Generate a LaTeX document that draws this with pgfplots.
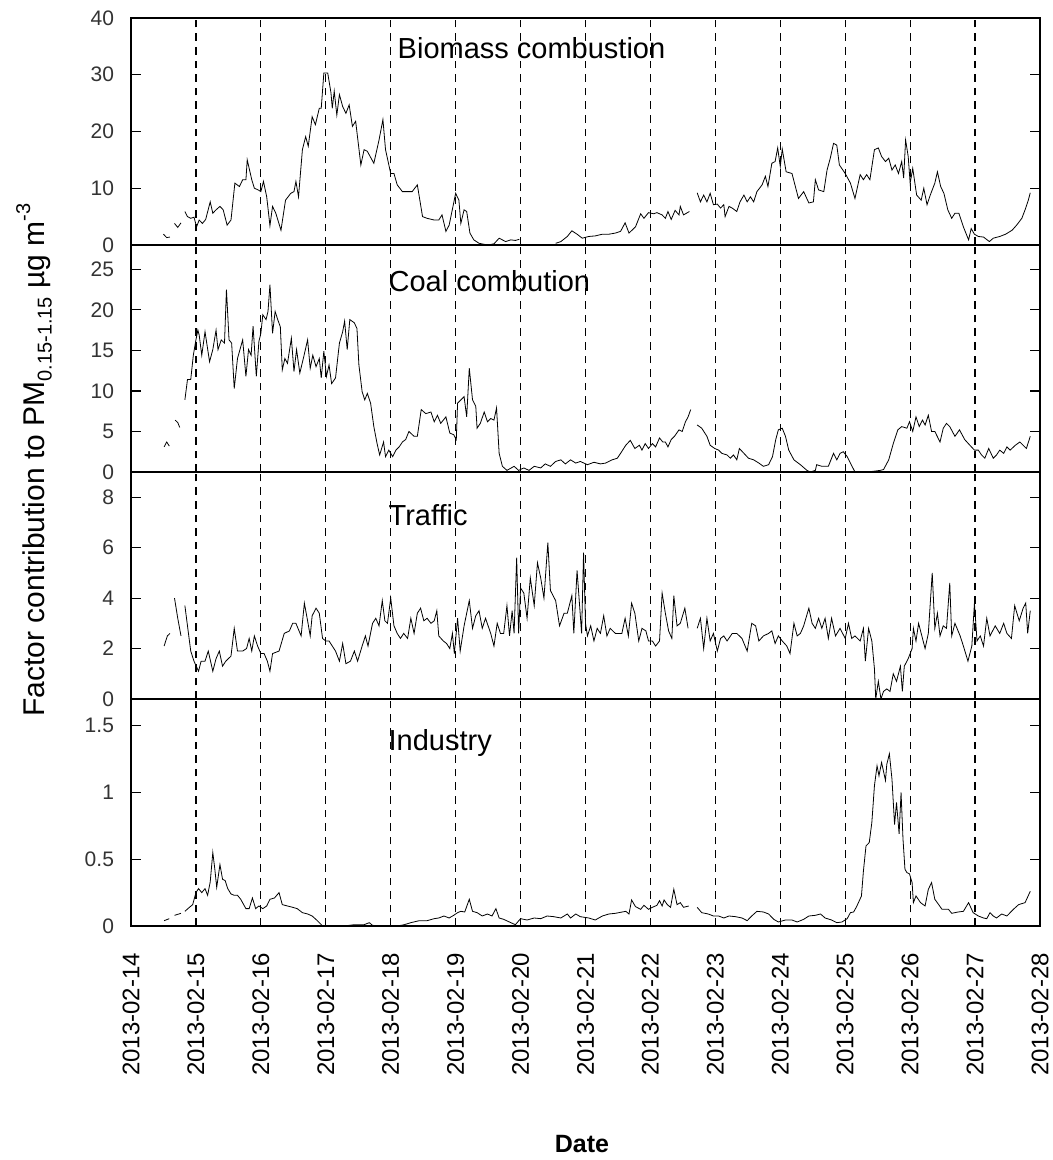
\documentclass[border=0pt]{standalone}
\usepackage{fontspec}
\setmainfont{Liberation Sans}
\usepackage{pgfplots}
\pgfplotsset{compat=1.18}

\pgfplotsset{panel/.style={
    width=454.5pt, height=113.5pt, scale only axis,
    anchor=north west,
    xmin=0, xmax=14, ymin=0,
    xtick={0,...,14}, xticklabels={},
    xmajorgrids,
    major x grid style={black, line width=0.6pt, dash pattern=on 3.8pt off 3pt},
    xtick style={draw=none},
    ytick style={black, line width=0.6pt},
    tick align=inside, major tick length=5pt,
    axis line style={line width=0.9pt},
    unbounded coords=jump,
    yticklabel style={font=\fontsize{10.5}{12}\selectfont, text=black!80},
    yticklabel shift=5pt,
    /pgf/number format/assume math mode=true,
    cycle list={{black, line width=0.9pt, line join=round, mark=none}},
  }}
\tikzset{ttl/.style={anchor=west, inner sep=0pt, font=\fontsize{14.5}{16}\selectfont}}

\begin{document}
\begin{tikzpicture}
\useasboundingbox (-65.5pt,9pt) rectangle (461pt,-571pt);

% Biomass combustion
\begin{axis}[panel, at={(0,0)}, ymax=40, ytick={0,10,...,40}]
\addplot coordinates {
(0.50,1.9) (0.55,1.3) (0.60,1.4) (0.63,nan)
(0.67,3.8) (0.72,3.1) (0.77,3.9) (0.80,nan)
(0.83,5.9) (0.87,5.0) (0.92,4.7) (0.97,4.9) (1.01,3.2) (1.05,4.4) (1.10,3.8) (1.15,4.5)
(1.22,7.6) (1.26,5.6) (1.31,6.2) (1.37,6.8) (1.42,6.2) (1.48,3.5) (1.54,4.4) (1.60,10.9)
(1.67,10.3) (1.72,11.5) (1.77,11.5) (1.79,15.0) (1.86,11.5) (1.90,10.0) (1.96,9.7) (2.00,9.4)
(2.04,11.2) (2.09,8.5) (2.14,3.4) (2.18,6.8) (2.23,5.6) (2.31,2.6) (2.38,7.9) (2.46,9.1)
(2.51,9.4) (2.54,11.2) (2.58,8.5) (2.64,16.8) (2.69,19.1) (2.73,17.4) (2.79,22.6) (2.84,21.2)
(2.90,24.1) (2.93,24.1) (2.97,30.3) (3.03,30.3) (3.08,26.8) (3.10,24.1) (3.13,27.1) (3.17,22.9)
(3.21,26.5) (3.26,24.4) (3.31,23.2) (3.36,24.7) (3.41,20.9) (3.46,21.8) (3.54,14.1) (3.59,16.8)
(3.64,16.5) (3.74,14.4) (3.82,18.5) (3.88,22.1) (3.92,16.8) (4.00,12.6) (4.05,12.6) (4.10,10.6)
(4.18,9.4) (4.26,9.4) (4.33,9.4) (4.41,10.6) (4.49,5.0) (4.56,4.7) (4.67,4.4) (4.74,4.4)
(4.79,5.3) (4.85,2.4) (4.90,3.5) (5.00,9.1) (5.05,7.9) (5.08,3.8) (5.13,6.2) (5.17,5.9)
(5.22,2.1) (5.28,0.9) (5.36,0.3) (5.49,0.0) (5.59,0.2) (5.67,1.2) (5.77,0.6) (5.85,0.9)
(5.92,0.8) (5.98,1.0) (6.20,nan)
(6.54,0.3) (6.62,0.6) (6.72,1.5) (6.79,2.5) (6.87,1.9) (6.95,1.2) (7.05,1.5) (7.15,1.6)
(7.26,1.9) (7.36,1.9) (7.46,2.1) (7.54,2.4) (7.61,3.9) (7.67,2.1) (7.77,3.2) (7.85,5.5)
(7.90,4.7) (7.97,5.7) (8.05,5.5) (8.10,5.7) (8.18,5.3) (8.23,4.7) (8.27,5.9) (8.32,4.5)
(8.38,6.1) (8.44,5.3) (8.46,6.8) (8.51,5.3) (8.60,5.9) (8.66,nan)
(8.72,9.2) (8.77,7.6) (8.82,8.8) (8.87,7.6) (8.92,9.1) (8.97,7.1) (9.03,7.2) (9.08,6.5)
(9.13,7.1) (9.15,5.0) (9.21,6.8) (9.26,6.5) (9.33,5.9) (9.38,7.6) (9.44,8.8) (9.49,7.6)
(9.54,8.5) (9.59,7.6) (9.64,9.4) (9.72,10.6) (9.77,12.1) (9.81,10.3) (9.87,14.4) (9.92,14.7)
(9.96,17.1) (10.00,13.8) (10.03,16.9) (10.09,12.9) (10.18,12.6) (10.28,8.2) (10.36,9.4) (10.44,7.4)
(10.51,7.6) (10.54,11.5) (10.59,9.7) (10.67,9.4) (10.72,13.2) (10.77,15.3) (10.82,17.9) (10.87,17.6)
(10.91,14.1) (11.00,12.6) (11.08,10.9) (11.15,8.2) (11.23,12.4) (11.28,11.5) (11.33,12.4) (11.38,11.5)
(11.45,16.8) (11.51,17.1) (11.56,15.6) (11.62,14.7) (11.67,15.3) (11.72,13.2) (11.77,14.1) (11.82,12.6)
(11.87,14.7) (11.90,11.8) (11.93,18.5) (11.97,15.6) (12.00,10.9) (12.04,13.5) (12.10,8.8) (12.17,7.9)
(12.21,10.0) (12.26,7.1) (12.31,8.8) (12.38,10.9) (12.42,12.9) (12.47,10.3) (12.52,9.1) (12.58,6.2)
(12.64,4.7) (12.69,5.6) (12.75,5.6) (12.82,3.2) (12.90,0.9) (12.94,2.9) (12.99,1.9) (13.05,1.5)
(13.13,1.4) (13.22,0.6) (13.28,1.2) (13.38,1.5) (13.47,1.9) (13.57,2.6) (13.64,3.5) (13.72,4.7)
(13.77,6.2) (13.82,7.9) (13.85,9.2)
};
\node[ttl] at (rel axis cs:0.293,0.868) {Biomass combustion};
\end{axis}

% Coal combustion
\begin{axis}[panel, at={(0,-113.5pt)}, ymax=28, ytick={0,5,...,25}]
\addplot coordinates {
(0.51,3.1) (0.55,3.7) (0.59,3.2) (0.63,nan)
(0.68,6.4) (0.72,6.1) (0.75,5.5) (0.79,nan)
(0.83,8.9) (0.87,11.4) (0.92,11.4) (0.96,14.4) (1.00,16.3) (1.03,17.5) (1.05,16.9) (1.09,14.4)
(1.14,17.3) (1.21,13.6) (1.26,15.1) (1.31,17.5) (1.34,15.1) (1.39,16.3) (1.44,15.9) (1.47,22.5)
(1.51,16.3) (1.55,15.9) (1.59,10.3) (1.64,14.0) (1.72,16.3) (1.77,11.8) (1.81,15.1) (1.85,14.4)
(1.88,18.0) (1.93,11.8) (1.97,16.1) (2.00,17.1) (2.03,19.4) (2.08,18.8) (2.11,19.8) (2.14,23.1)
(2.18,17.1) (2.22,19.8) (2.26,18.8) (2.30,17.9) (2.33,12.6) (2.37,14.0) (2.41,13.4) (2.47,16.5)
(2.51,12.4) (2.55,15.1) (2.60,12.2) (2.66,14.2) (2.72,16.3) (2.76,12.8) (2.80,14.4) (2.85,13.0)
(2.90,14.0) (2.93,11.6) (2.97,14.9) (3.01,11.8) (3.05,13.2) (3.09,10.9) (3.15,11.6) (3.21,15.9)
(3.26,17.3) (3.29,18.6) (3.33,15.1) (3.37,18.8) (3.44,18.4) (3.48,17.7) (3.51,13.2) (3.56,9.9)
(3.60,8.9) (3.64,9.7) (3.69,8.5) (3.74,5.6) (3.79,3.5) (3.83,2.1) (3.89,3.7) (3.92,1.9)
(3.97,2.7) (4.03,1.9) (4.08,2.7) (4.13,3.1) (4.18,3.7) (4.23,4.0) (4.28,5.0) (4.36,4.4)
(4.41,4.4) (4.47,7.7) (4.54,7.2) (4.62,7.4) (4.67,6.2) (4.72,7.0) (4.77,6.0) (4.85,6.8)
(4.91,4.8) (4.97,4.6) (5.01,4.0) (5.03,8.5) (5.08,8.9) (5.13,9.3) (5.17,6.8) (5.21,12.8)
(5.26,8.9) (5.31,8.1) (5.33,5.4) (5.38,6.0) (5.44,7.4) (5.49,6.2) (5.54,6.6) (5.59,6.4)
(5.63,7.9) (5.67,2.3) (5.72,0.7) (5.79,0.2) (5.90,0.7) (5.97,0.2) (6.05,0.5) (6.13,0.2)
(6.21,0.7) (6.31,0.5) (6.38,1.0) (6.46,0.7) (6.54,1.3) (6.62,1.5) (6.69,1.0) (6.77,1.5)
(6.85,1.1) (6.92,1.3) (7.03,0.9) (7.13,1.2) (7.23,1.0) (7.31,1.1) (7.41,1.5) (7.49,1.7)
(7.54,2.3) (7.62,3.3) (7.69,3.9) (7.76,2.9) (7.83,3.3) (7.87,2.7) (7.92,3.5) (7.97,2.9)
(8.03,3.5) (8.08,3.1) (8.14,4.2) (8.19,3.7) (8.23,3.7) (8.27,3.1) (8.32,4.0) (8.37,4.4)
(8.44,5.2) (8.49,5.0) (8.54,6.2) (8.58,6.8) (8.62,7.7) (8.67,nan)
(8.72,5.8) (8.79,5.4) (8.87,4.4) (8.92,3.3) (8.99,2.9) (9.05,2.7) (9.10,2.3) (9.18,2.1)
(9.23,1.7) (9.28,2.1) (9.33,1.5) (9.37,2.9) (9.44,2.3) (9.51,1.7) (9.59,1.5) (9.67,1.1)
(9.74,0.7) (9.82,0.9) (9.88,1.9) (9.93,4.0) (9.97,5.2) (10.03,5.4) (10.08,4.4) (10.13,2.7)
(10.21,1.5) (10.31,0.9) (10.41,0.2) (10.46,0.0) (10.54,0.2) (10.56,0.9) (10.64,0.7) (10.74,0.7)
(10.82,2.3) (10.87,1.5) (10.92,2.3) (10.97,2.5) (11.03,1.9) (11.08,1.1) (11.15,0.0) (11.35,0.0)
(11.54,0.2) (11.59,0.3) (11.67,1.5) (11.74,3.5) (11.81,5.2) (11.87,5.6) (11.95,5.4) (11.99,6.2)
(12.04,5.0) (12.09,6.8) (12.14,5.6) (12.19,6.4) (12.23,5.8) (12.28,7.0) (12.33,5.0) (12.38,5.0)
(12.46,3.7) (12.51,5.4) (12.56,6.0) (12.61,5.6) (12.69,4.4) (12.76,5.2) (12.84,4.0) (12.92,3.3)
(12.99,2.7) (13.05,2.7) (13.10,2.1) (13.15,1.7) (13.21,2.9) (13.28,1.7) (13.33,2.1) (13.38,2.7)
(13.44,2.3) (13.49,3.1) (13.54,2.7) (13.62,3.3) (13.69,3.7) (13.74,3.3) (13.79,2.9) (13.85,4.4)
};
\node[ttl] at (rel axis cs:0.283,0.841) {Coal combution};
\end{axis}

% Traffic
\begin{axis}[panel, at={(0,-227pt)}, ymax=9, ytick={0,2,...,8}]
\addplot coordinates {
(0.51,2.1) (0.56,2.5) (0.60,2.6) (0.63,nan)
(0.67,4.0) (0.72,3.2) (0.77,2.5) (0.80,nan)
(0.83,3.7) (0.87,2.9) (0.92,1.9) (0.97,1.5) (1.04,1.1) (1.08,1.5) (1.14,1.5) (1.19,1.9)
(1.26,1.1) (1.31,1.6) (1.36,1.9) (1.41,1.3) (1.46,1.5) (1.54,1.7) (1.59,2.8) (1.64,1.9)
(1.72,1.9) (1.78,2.0) (1.82,2.4) (1.86,1.9) (1.90,2.5) (1.95,2.1) (2.00,1.8) (2.05,1.8)
(2.10,1.5) (2.14,1.1) (2.18,1.8) (2.28,1.9) (2.36,2.6) (2.44,2.7) (2.49,3.0) (2.54,3.0)
(2.62,2.5) (2.67,3.8) (2.72,3.1) (2.76,2.5) (2.79,3.3) (2.85,3.6) (2.90,3.4) (2.95,2.4)
(3.00,2.3) (3.05,2.3) (3.10,2.1) (3.15,1.9) (3.21,1.5) (3.26,2.2) (3.31,1.4) (3.38,1.5)
(3.44,1.9) (3.49,1.5) (3.56,2.1) (3.61,2.5) (3.65,2.1) (3.72,3.0) (3.77,3.2) (3.82,2.9)
(3.87,3.9) (3.91,3.1) (3.95,3.0) (4.00,4.0) (4.05,2.9) (4.10,2.6) (4.15,2.4) (4.20,2.6)
(4.26,2.4) (4.31,3.2) (4.36,2.6) (4.41,3.4) (4.46,3.6) (4.51,3.1) (4.56,3.2) (4.62,3.0)
(4.67,3.1) (4.71,3.5) (4.74,2.5) (4.81,2.3) (4.86,2.2) (4.91,2.0) (4.95,2.6) (4.98,1.8)
(5.03,3.2) (5.07,1.9) (5.13,2.9) (5.21,3.9) (5.26,2.8) (5.31,3.3) (5.36,3.5) (5.41,2.8)
(5.46,3.2) (5.54,2.6) (5.59,2.1) (5.64,3.0) (5.69,2.6) (5.74,2.6) (5.79,3.7) (5.83,2.5)
(5.87,3.5) (5.90,2.6) (5.94,5.6) (5.97,2.6) (6.00,4.4) (6.05,4.2) (6.10,3.2) (6.15,4.8)
(6.21,3.7) (6.26,5.4) (6.31,4.8) (6.36,4.0) (6.42,6.2) (6.46,4.3) (6.54,3.9) (6.60,2.9)
(6.67,3.4) (6.72,3.4) (6.79,4.1) (6.82,2.6) (6.87,5.1) (6.94,2.6) (6.97,5.8) (7.00,3.0)
(7.03,2.5) (7.08,2.9) (7.13,2.3) (7.18,2.8) (7.23,2.6) (7.28,3.3) (7.33,2.5) (7.38,2.8)
(7.46,2.6) (7.56,2.6) (7.61,3.2) (7.66,2.5) (7.71,3.8) (7.76,3.4) (7.82,2.3) (7.87,2.8)
(7.93,2.7) (7.97,2.3) (8.03,2.3) (8.08,2.1) (8.14,2.3) (8.18,4.2) (8.23,3.4) (8.28,2.7)
(8.33,2.4) (8.36,4.1) (8.41,2.9) (8.46,3.0) (8.53,3.6) (8.58,2.8) (8.65,nan)
(8.72,2.8) (8.77,3.2) (8.82,2.0) (8.87,3.2) (8.92,2.3) (8.97,2.6) (9.03,1.9) (9.08,2.4)
(9.13,2.5) (9.18,2.3) (9.26,2.6) (9.33,2.6) (9.41,2.4) (9.49,1.9) (9.56,3.0) (9.62,2.9)
(9.67,2.3) (9.74,2.5) (9.82,2.6) (9.87,2.7) (9.92,2.2) (9.97,2.5) (10.03,2.3) (10.10,2.1)
(10.15,1.8) (10.21,3.0) (10.26,2.5) (10.31,2.6) (10.36,2.9) (10.44,3.6) (10.49,3.0) (10.54,2.8)
(10.59,3.2) (10.64,2.8) (10.69,3.2) (10.74,2.4) (10.79,3.2) (10.85,2.5) (10.92,2.8) (11.00,2.4)
(11.05,3.0) (11.10,2.4) (11.15,2.5) (11.23,2.3) (11.28,2.8) (11.31,1.5) (11.36,2.8) (11.41,2.3)
(11.45,1.2) (11.47,0.0) (11.51,0.7) (11.55,0.0) (11.59,0.3) (11.64,0.4) (11.69,0.3) (11.74,1.0)
(11.79,0.7) (11.85,1.3) (11.88,0.3) (11.91,1.3) (11.97,1.6) (12.03,2.0) (12.05,2.8) (12.09,2.3)
(12.13,3.0) (12.18,2.5) (12.23,2.0) (12.28,2.6) (12.34,5.0) (12.38,2.8) (12.42,3.4) (12.46,2.5)
(12.51,2.9) (12.56,2.8) (12.61,4.6) (12.64,2.5) (12.69,3.0) (12.77,2.5) (12.82,2.1) (12.89,1.5)
(12.95,2.1) (12.99,3.8) (13.03,2.3) (13.08,2.5) (13.13,2.1) (13.18,3.2) (13.23,2.5) (13.31,2.9)
(13.38,2.6) (13.44,3.0) (13.49,2.6) (13.56,2.4) (13.61,3.7) (13.68,3.1) (13.74,3.6) (13.78,3.8)
(13.81,2.6) (13.85,3.5)
};
\node[ttl] at (rel axis cs:0.283,0.81) {Traffic};
\end{axis}

% Industry
\begin{axis}[panel, at={(0,-340.5pt)}, ymax=1.7, ytick={0,0.5,1,1.5},
    xticklabels={2013-02-14,2013-02-15,2013-02-16,2013-02-17,2013-02-18,2013-02-19,2013-02-20,
      2013-02-21,2013-02-22,2013-02-23,2013-02-24,2013-02-25,2013-02-26,2013-02-27,2013-02-28},
    xticklabel style={rotate=90, anchor=east, font=\fontsize{12}{14}\selectfont},
    xticklabel shift=10pt]
\addplot coordinates {
(0.51,0.04) (0.59,0.055) (0.63,nan)
(0.67,0.08) (0.77,0.095) (0.80,nan)
(0.83,0.11) (0.90,0.14) (0.95,0.16) (1.00,0.25) (1.04,0.28) (1.09,0.25) (1.14,0.28) (1.18,0.23)
(1.22,0.33) (1.26,0.55) (1.29,0.43) (1.32,0.29) (1.37,0.46) (1.41,0.35) (1.45,0.34) (1.49,0.28)
(1.54,0.24) (1.59,0.23) (1.64,0.23) (1.69,0.20) (1.77,0.13) (1.82,0.13) (1.87,0.21) (1.92,0.13)
(1.97,0.15) (2.03,0.13) (2.09,0.15) (2.14,0.20) (2.21,0.21) (2.28,0.25) (2.33,0.16) (2.41,0.15)
(2.49,0.14) (2.56,0.13) (2.64,0.10) (2.72,0.09) (2.79,0.075) (2.87,0.04) (2.95,0.0) (3.03,0.0)
(3.13,0.0) (3.28,0.0) (3.44,0.01) (3.59,0.01) (3.67,0.025) (3.72,0.005) (3.85,0.0) (4.00,0.0)
(4.10,0.0) (4.21,0.01) (4.31,0.025) (4.44,0.04) (4.56,0.04) (4.67,0.055) (4.74,0.06) (4.82,0.075)
(4.90,0.06) (4.97,0.08) (5.03,0.10) (5.08,0.11) (5.14,0.105) (5.21,0.20) (5.26,0.11) (5.33,0.10)
(5.41,0.075) (5.49,0.09) (5.56,0.075) (5.62,0.13) (5.67,0.06) (5.74,0.05) (5.85,0.025) (5.92,0.01)
(6.00,0.055) (6.10,0.045) (6.21,0.06) (6.31,0.055) (6.41,0.075) (6.51,0.07) (6.62,0.06) (6.72,0.09)
(6.77,0.06) (6.85,0.09) (6.92,0.07) (7.05,0.06) (7.15,0.045) (7.26,0.075) (7.36,0.09) (7.46,0.095)
(7.62,0.11) (7.67,0.09) (7.71,0.195) (7.77,0.145) (7.85,0.125) (7.90,0.155) (7.97,0.125) (8.03,0.14)
(8.10,0.155) (8.14,0.19) (8.18,0.15) (8.21,0.195) (8.26,0.16) (8.31,0.14) (8.36,0.275) (8.41,0.16)
(8.46,0.175) (8.51,0.14) (8.59,0.15) (8.65,nan)
(8.72,0.14) (8.79,0.10) (8.89,0.09) (8.97,0.075) (9.05,0.075) (9.13,0.06) (9.21,0.075) (9.31,0.07)
(9.41,0.06) (9.49,0.04) (9.56,0.075) (9.64,0.11) (9.74,0.105) (9.82,0.09) (9.90,0.05) (9.97,0.03)
(10.08,0.045) (10.18,0.045) (10.26,0.03) (10.36,0.05) (10.44,0.075) (10.54,0.08) (10.62,0.09) (10.69,0.06)
(10.79,0.045) (10.87,0.025) (10.95,0.03) (11.03,0.055) (11.08,0.10) (11.13,0.105) (11.18,0.15) (11.25,0.225)
(11.28,0.41) (11.32,0.60) (11.37,0.625) (11.41,0.775) (11.45,1.05) (11.49,1.20) (11.52,1.125) (11.56,1.225)
(11.62,1.09) (11.64,1.21) (11.68,1.29) (11.72,1.10) (11.76,0.76) (11.79,0.925) (11.83,0.69) (11.86,1.0)
(11.89,0.65) (11.92,0.425) (11.95,0.40) (11.99,0.39) (12.03,0.325) (12.05,0.175) (12.09,0.225) (12.16,0.175)
(12.23,0.15) (12.28,0.275) (12.33,0.325) (12.38,0.20) (12.44,0.16) (12.49,0.125) (12.59,0.125) (12.64,0.095)
(12.74,0.105) (12.82,0.11) (12.90,0.175) (12.97,0.10) (13.05,0.075) (13.13,0.06) (13.18,0.055) (13.23,0.10)
(13.28,0.075) (13.33,0.06) (13.41,0.09) (13.49,0.075) (13.54,0.10) (13.59,0.125) (13.67,0.16) (13.77,0.175)
(13.85,0.26)
};
\node[ttl] at (rel axis cs:0.283,0.806) {Industry};
\end{axis}

\node[rotate=90, font=\fontsize{15}{17}\selectfont] at (-48.5pt,-221pt)
  {Factor contribution to PM\raisebox{-0.45ex}{\fontsize{10}{11}\selectfont 0.15-1.15} µg m\raisebox{0.9ex}{\fontsize{10}{11}\selectfont -3}};
\node[font=\bfseries\fontsize{12.5}{14}\selectfont] at (225.5pt,-563pt) {Date};
\end{tikzpicture}
\end{document}
